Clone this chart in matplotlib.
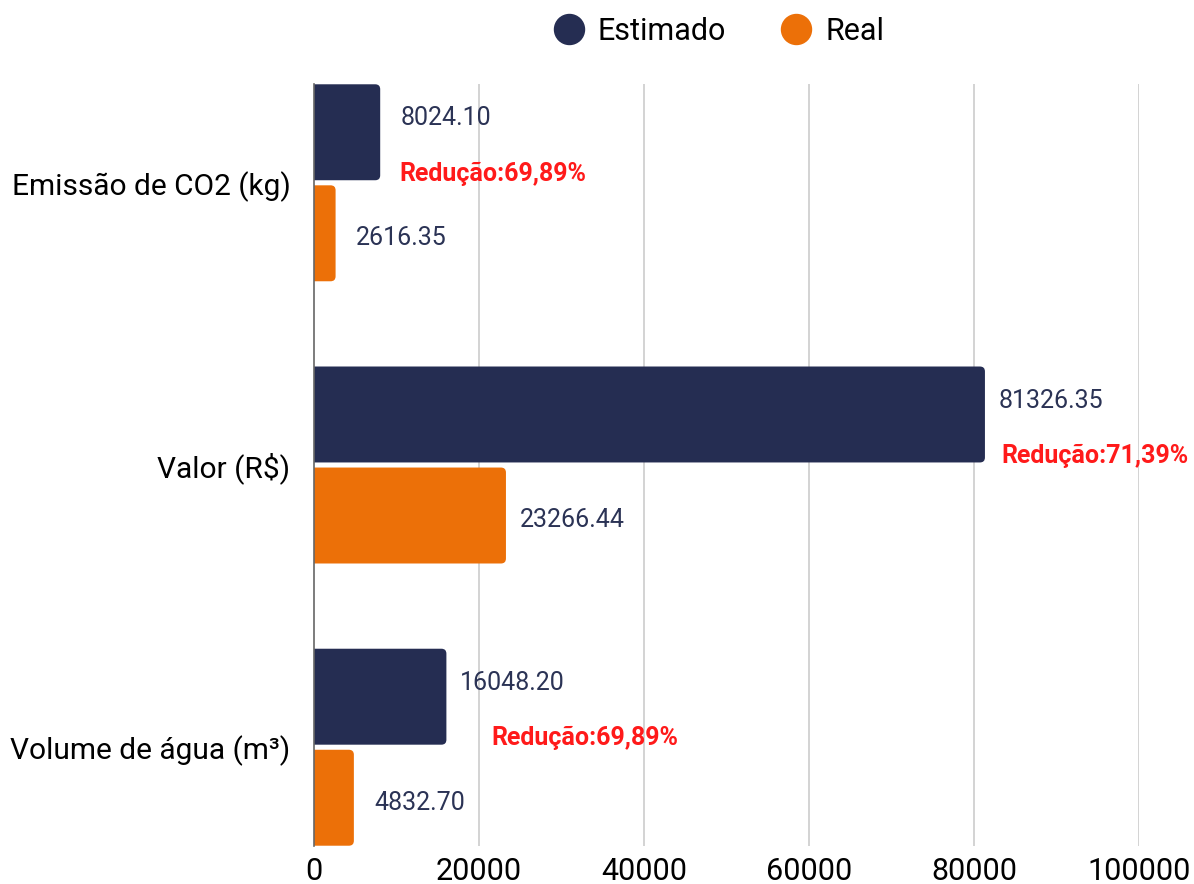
import matplotlib.pyplot as plt
import numpy as np
from matplotlib.lines import Line2D
from matplotlib.patches import FancyBboxPatch

plt.rcParams["font.family"] = ["Roboto", "DejaVu Sans"]

categories = ["Emissão de CO2 (kg)", "Valor (R$)", "Volume de água (m³)"]
estimado = [8024.10, 81326.35, 16048.20]
real = [2616.35, 23266.44, 4832.70]
reducao = ["Redução:69,89%", "Redução:71,39%", "Redução:69,89%"]
red_dx = [19, 16, 45]  # px offset of the reduction label from the bar end
xticks = [0, 20000, 40000, 60000, 80000, 100000]

navy = "#252d52"
orange = "#ec7008"
label_col = "#2b3355"

fig = plt.figure(figsize=(11.94, 8.84), dpi=100)
ax = fig.add_axes([314 / 1194, 1 - 846 / 884, (1139 - 314) / 1194, (846 - 84) / 884])

y = np.arange(len(categories))
h = 0.34
gap = 0.009

ax.set_xlim(0, 100000)
ax.set_ylim(2.35, -0.35)

px_x = 100000 / 825
px_y = 2.7 / 762
aspect = px_y / px_x


def rounded_bar(x1, yc, color):
    b = FancyBboxPatch((-2000, yc - h / 2), x1 + 2000, h,
                       boxstyle=f"round,pad=0,rounding_size={5 * px_x}",
                       mutation_aspect=aspect, fc=color, ec="none",
                       zorder=3, clip_on=True)
    ax.add_patch(b)


for i in range(len(categories)):
    ye = y[i] - h / 2 - gap
    yr = y[i] + h / 2 + gap
    rounded_bar(estimado[i], ye, navy)
    rounded_bar(real[i], yr, orange)
    ax.annotate(f"{estimado[i]:.2f}", (estimado[i], ye), xytext=(47.5, 10),
                textcoords="offset points", ha="center", va="center",
                fontsize=18, color=label_col, annotation_clip=False)
    ax.annotate(reducao[i], (estimado[i], ye), xytext=(red_dx[i] * 0.72, -30),
                textcoords="offset points", ha="left", va="center",
                fontsize=18, fontweight="bold", color="#ff1a1a",
                annotation_clip=False)
    ax.annotate(f"{real[i]:.2f}", (real[i], yr), xytext=(47.5, -3.5),
                textcoords="offset points", ha="center", va="center",
                fontsize=18, color=label_col, annotation_clip=False)

ax.set_yticks(y)
ax.set_yticklabels(categories, fontsize=21.5)
ax.set_xticks(xticks)
ax.set_xticklabels([str(t) for t in xticks], fontsize=22)
ax.tick_params(axis="y", length=0, pad=17)
ax.tick_params(axis="x", length=0, pad=8)

for t in xticks[1:]:
    ax.axvline(t, color="#cccccc", lw=1.2, zorder=1)
for s in ["top", "right", "bottom"]:
    ax.spines[s].set_visible(False)
ax.spines["left"].set_color("#666666")
ax.spines["left"].set_linewidth(1.2)
ax.spines["left"].set_zorder(4)

handles = [Line2D([], [], marker="o", ls="", markersize=21.6, color=navy),
           Line2D([], [], marker="o", ls="", markersize=21.6, color=orange)]
fig.legend(handles, ["Estimado", "Real"], loc="center", bbox_to_anchor=(719 / 1194, 1 - 31 / 884),
           ncol=2, frameon=False, fontsize=22, handletextpad=0.45, columnspacing=1.8,
           handlelength=1.0)

fig.savefig("out.png", dpi=100)
